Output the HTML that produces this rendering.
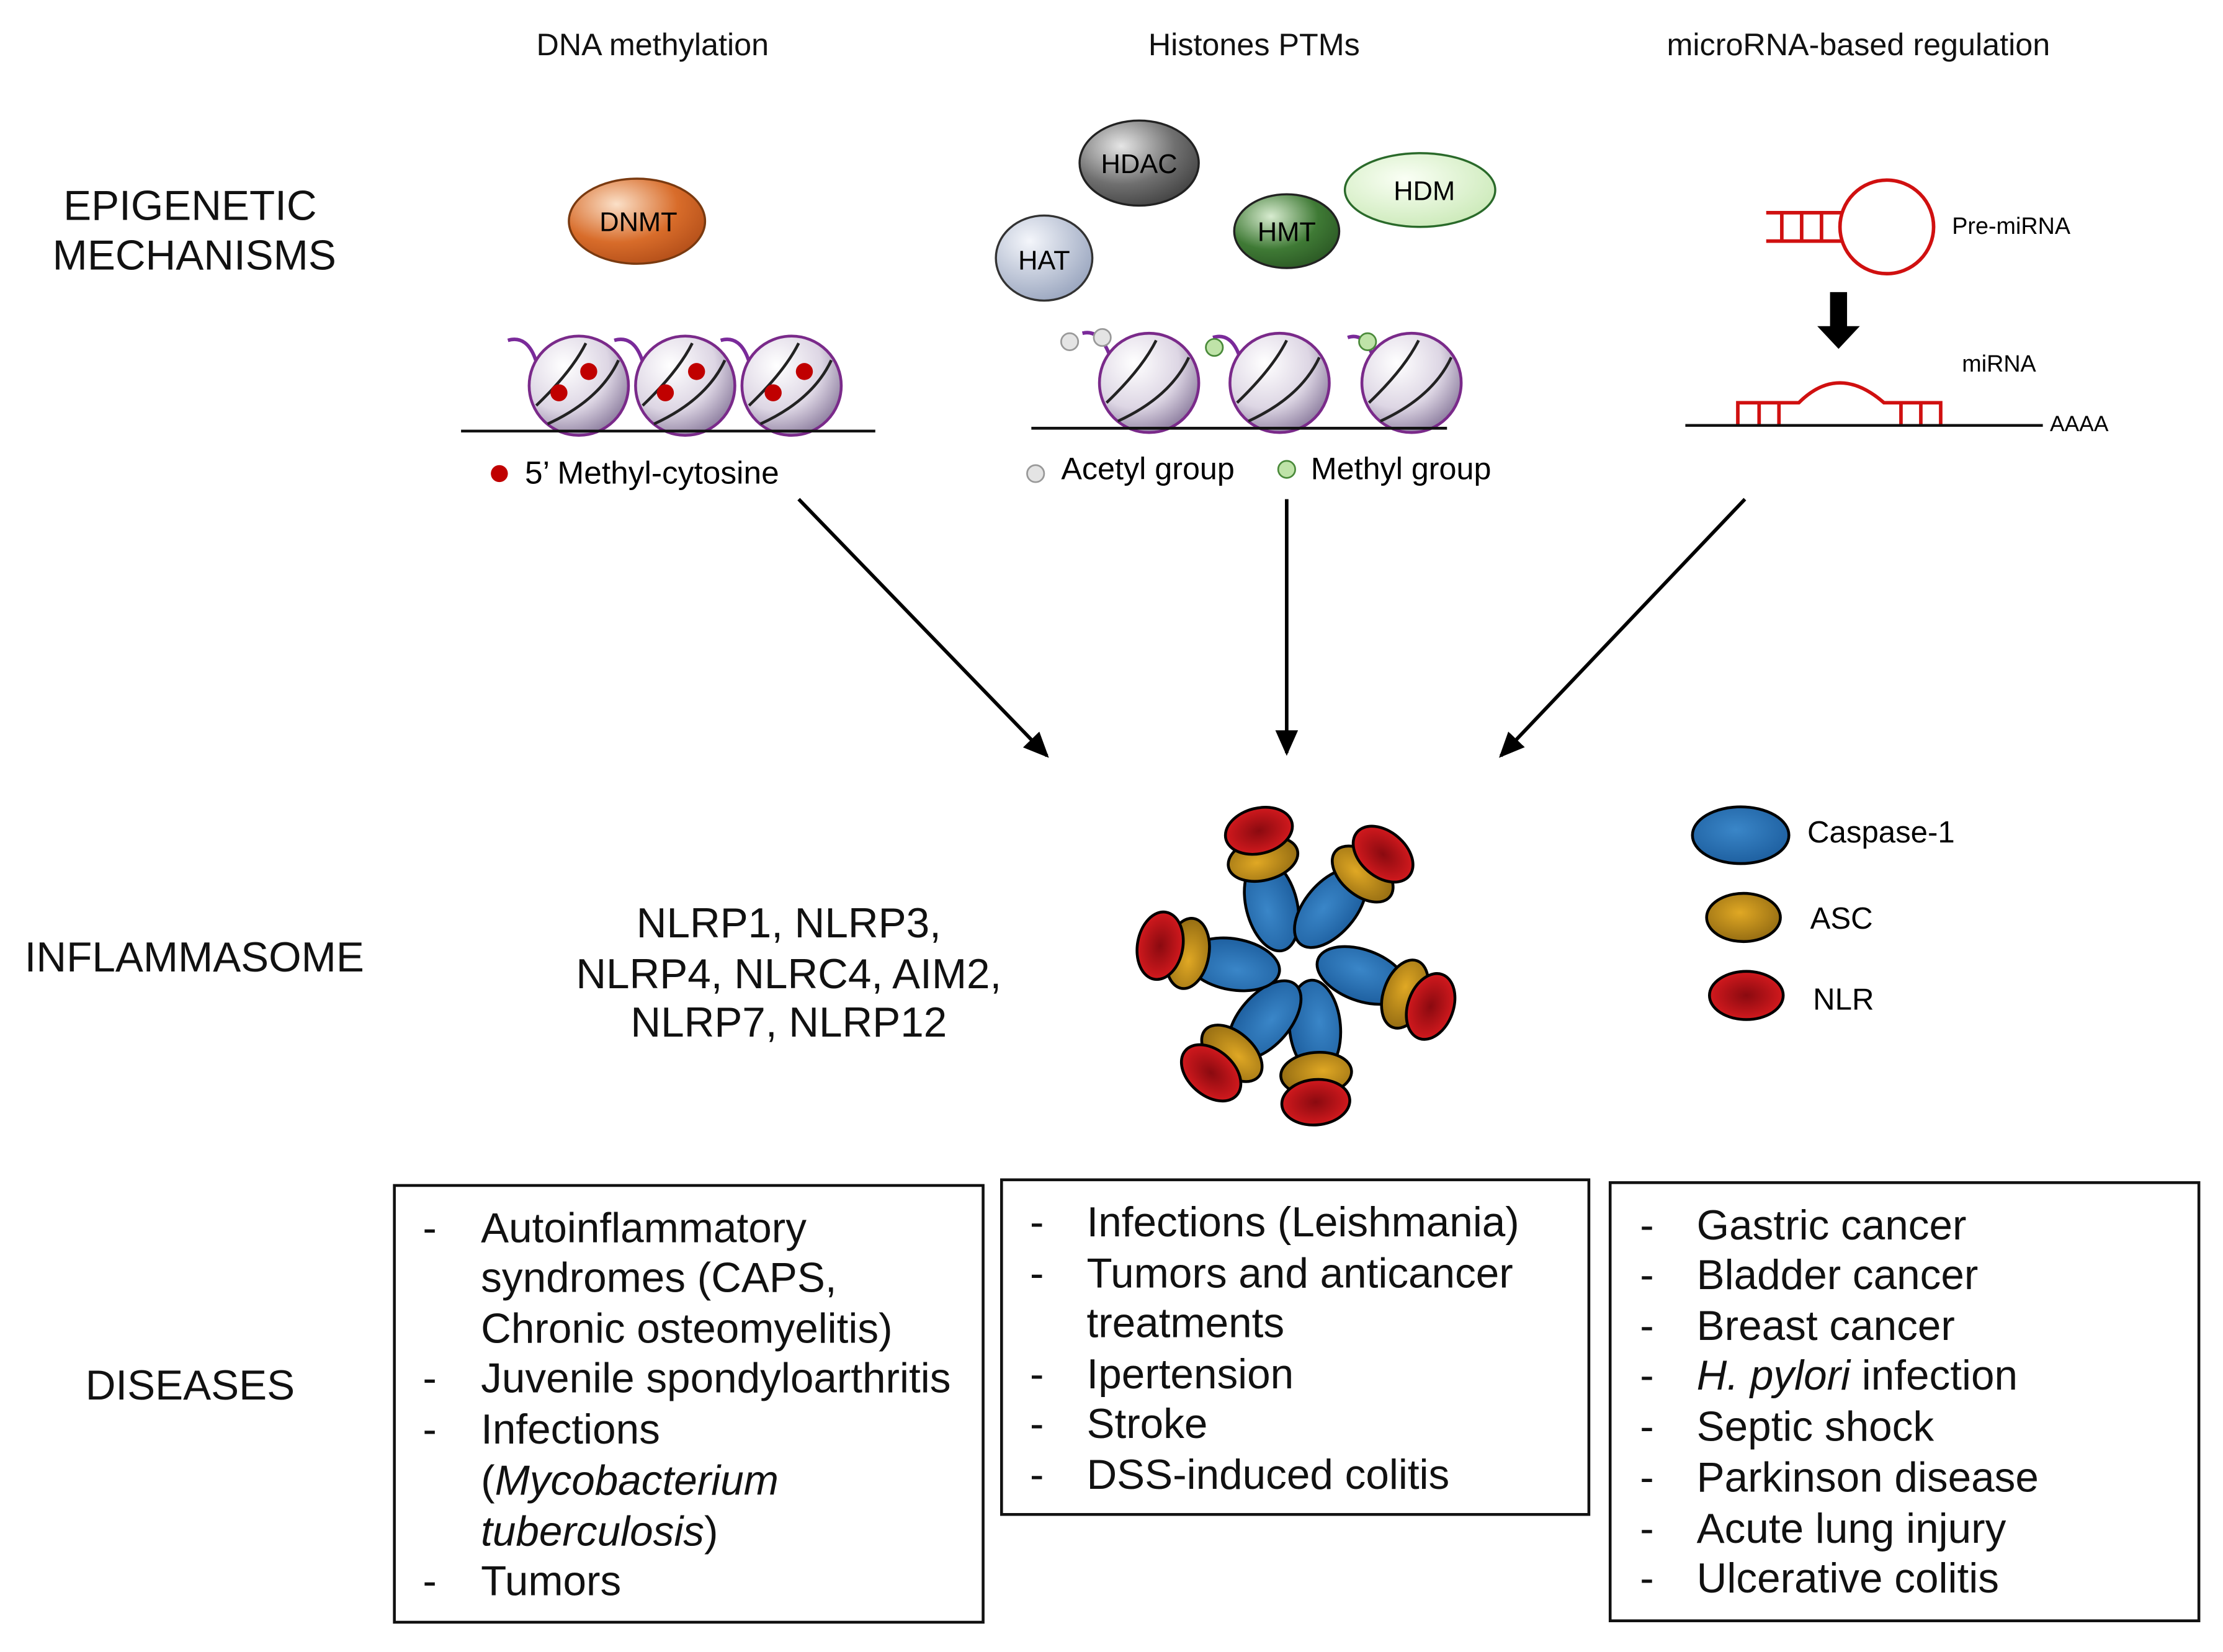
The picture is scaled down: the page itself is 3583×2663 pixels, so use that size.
<!DOCTYPE html>
<html><head><meta charset="utf-8"><style>html,body{margin:0;padding:0;background:#fff}svg{display:block}</style></head>
<body>
<svg width="3583" height="2663" viewBox="0 0 1567 1165" preserveAspectRatio="none" xmlns="http://www.w3.org/2000/svg" font-family="Liberation Sans, Arial, sans-serif">
<defs>
<radialGradient id="gOr" cx="35%" cy="30%" r="75%"><stop offset="0" stop-color="#fbe0c8"/><stop offset="0.6" stop-color="#d86c2a"/><stop offset="1" stop-color="#b5501a"/></radialGradient>
<radialGradient id="gDk" cx="35%" cy="30%" r="75%"><stop offset="0" stop-color="#e6e6e6"/><stop offset="0.6" stop-color="#707070"/><stop offset="1" stop-color="#444"/></radialGradient>
<radialGradient id="gBl" cx="35%" cy="30%" r="75%"><stop offset="0" stop-color="#f4f6fb"/><stop offset="1" stop-color="#9aa6bf"/></radialGradient>
<radialGradient id="gDg" cx="35%" cy="30%" r="75%"><stop offset="0" stop-color="#d8ecd0"/><stop offset="0.6" stop-color="#3f7a35"/><stop offset="1" stop-color="#2c5a25"/></radialGradient>
<radialGradient id="gLg" cx="40%" cy="35%" r="75%"><stop offset="0" stop-color="#fafff5"/><stop offset="1" stop-color="#c8e8b4"/></radialGradient>
<radialGradient id="gNu" cx="35%" cy="30%" r="75%"><stop offset="0" stop-color="#ffffff"/><stop offset="0.6" stop-color="#ddd6e4"/><stop offset="1" stop-color="#8e7fa0"/></radialGradient>
<radialGradient id="gCas" cx="45%" cy="40%" r="70%"><stop offset="0" stop-color="#3a86c8"/><stop offset="1" stop-color="#1a5a9a"/></radialGradient>
<radialGradient id="gAsc" cx="45%" cy="40%" r="70%"><stop offset="0" stop-color="#e0a824"/><stop offset="1" stop-color="#8a6410"/></radialGradient>
<radialGradient id="gNlr" cx="50%" cy="50%" r="60%"><stop offset="0" stop-color="#8a0a10"/><stop offset="1" stop-color="#e01c20"/></radialGradient>
<marker id="ah" markerWidth="20" markerHeight="16" refX="16" refY="8" orient="auto" markerUnits="userSpaceOnUse"><path d="M0,0 L18,8 L0,16 Z" fill="#000"/></marker>
<g id="nuc"><circle r="35" fill="url(#gNu)" stroke="#7a2a8a" stroke-width="2"/><path d="M-30,14 Q-5,-10 5,-30" stroke="#222" stroke-width="2" fill="none"/><path d="M-22,27 Q15,10 28,-18" stroke="#222" stroke-width="2" fill="none"/></g>
<g id="arm"><ellipse cx="45" cy="0" rx="33" ry="18" fill="url(#gCas)"/><ellipse cx="78" cy="2" rx="15" ry="25" fill="url(#gAsc)"/><ellipse cx="98" cy="4" rx="16" ry="24" fill="url(#gNlr)"/></g>
</defs>
<rect width="1567" height="1165" fill="#fff"/>
<g font-size="22" text-anchor="middle" fill="#111">
<text x="460" y="39">DNA methylation</text>
<text x="884" y="39">Histones PTMs</text>
<text x="1310" y="39">microRNA-based  regulation</text>
</g>
<g font-size="29.5" text-anchor="middle" fill="#111">
<text x="134" y="155">EPIGENETIC</text>
<text x="137" y="190">MECHANISMS</text>
<text x="137" y="685">INFLAMMASOME</text>
<text x="134" y="987">DISEASES</text>
</g>
<ellipse cx="449" cy="156" rx="48" ry="30" fill="url(#gOr)" stroke="#7a3a10" stroke-width="1.5"/>
<text x="450" y="163" font-size="19" text-anchor="middle">DNMT</text>
<g stroke="#7a2a9a" stroke-width="2.5" fill="none">
<path d="M358,240 Q372,236 378,255"/><path d="M433,240 Q447,236 453,255"/><path d="M508,240 Q522,236 528,255"/>
</g>
<use href="#nuc" x="408" y="272"/><use href="#nuc" x="483" y="272"/><use href="#nuc" x="558" y="272"/>
<line x1="325" y1="304" x2="617" y2="304" stroke="#111" stroke-width="2"/>
<g fill="#c00000"><circle cx="394" cy="277" r="6"/><circle cx="415" cy="262" r="6"/><circle cx="469" cy="277" r="6"/><circle cx="491" cy="262" r="6"/><circle cx="545" cy="277" r="6"/><circle cx="567" cy="262" r="6"/><circle cx="352" cy="334" r="6"/></g>
<text x="370" y="341" font-size="22.5">5’ Methyl-cytosine</text>
<ellipse cx="803" cy="115" rx="42" ry="30" fill="url(#gDk)" stroke="#222" stroke-width="1.5"/>
<text x="803" y="122" font-size="19" text-anchor="middle">HDAC</text>
<ellipse cx="736" cy="182" rx="34" ry="30" fill="url(#gBl)" stroke="#333" stroke-width="1.5"/>
<text x="736" y="190" font-size="19" text-anchor="middle">HAT</text>
<ellipse cx="907" cy="163" rx="37" ry="26" fill="url(#gDg)" stroke="#222" stroke-width="1.5"/>
<text x="907" y="170" font-size="19" text-anchor="middle">HMT</text>
<ellipse cx="1001" cy="134" rx="53" ry="26" fill="url(#gLg)" stroke="#2a6a2a" stroke-width="1.5"/>
<text x="1004" y="141" font-size="19" text-anchor="middle">HDM</text>
<g stroke="#7a2a9a" stroke-width="2.5" fill="none">
<path d="M763,235 Q775,232 782,250"/><path d="M855,238 Q868,234 874,252"/><path d="M950,238 Q962,234 968,252"/>
</g>
<use href="#nuc" x="810" y="270"/><use href="#nuc" x="902" y="270"/><use href="#nuc" x="995" y="270"/>
<line x1="727" y1="302" x2="1020" y2="302" stroke="#111" stroke-width="2"/>
<g fill="#e4e4e4" stroke="#999" stroke-width="1.2"><circle cx="754" cy="241" r="6"/><circle cx="777" cy="238" r="6"/><circle cx="730" cy="334" r="6"/></g>
<g fill="#bfe3a8" stroke="#4a8a3a" stroke-width="1.2"><circle cx="856" cy="245" r="6"/><circle cx="964" cy="241" r="6"/><circle cx="907" cy="331" r="6"/></g>
<text x="748" y="338" font-size="22">Acetyl group</text>
<text x="924" y="338" font-size="22">Methyl group</text>
<g stroke="#d01010" stroke-width="2.5" fill="none">
<circle cx="1330" cy="160" r="33"/>
<line x1="1245" y1="150" x2="1298" y2="150"/><line x1="1245" y1="170" x2="1298" y2="170"/>
<line x1="1256" y1="150" x2="1256" y2="170"/><line x1="1270" y1="150" x2="1270" y2="170"/><line x1="1284" y1="150" x2="1284" y2="170"/>
<path d="M1225,300 L1225,284 L1268,284 Q1296,256 1328,284 L1368,284 L1368,300"/>
<line x1="1240" y1="284" x2="1240" y2="300"/><line x1="1254" y1="284" x2="1254" y2="300"/>
<line x1="1340" y1="284" x2="1340" y2="300"/><line x1="1354" y1="284" x2="1354" y2="300"/>
</g>
<text x="1376" y="165" font-size="16.5">Pre-miRNA</text>
<text x="1383" y="262" font-size="16.5">miRNA</text>
<line x1="1188" y1="300" x2="1440" y2="300" stroke="#111" stroke-width="2"/>
<text x="1445" y="304" font-size="15.5">AAAA</text>
<path d="M1290,206 L1302,206 L1302,230 L1311,230 L1296,246 L1281,230 L1290,230 Z" fill="#000"/>
<g stroke="#000" stroke-width="2.5" marker-end="url(#ah)">
<line x1="563" y1="352" x2="738" y2="533"/>
<line x1="907" y1="352" x2="907" y2="531"/>
<line x1="1230" y1="352" x2="1058" y2="533"/>
</g>
<g font-size="29.5" text-anchor="middle" fill="#111">
<text x="556" y="661">NLRP1, NLRP3,</text>
<text x="556" y="697">NLRP4, NLRC4, AIM2,</text>
<text x="556" y="731">NLRP7, NLRP12</text>
</g>
<g stroke="#000" stroke-width="2">
<use href="#arm" transform="translate(915,680) rotate(-104) translate(0,-8)"/>
<use href="#arm" transform="translate(915,680) rotate(-50) translate(0,-8)"/>
<use href="#arm" transform="translate(915,680) rotate(20) translate(0,-8)"/>
<use href="#arm" transform="translate(915,680) rotate(85) translate(0,-8)"/>
<use href="#arm" transform="translate(915,680) rotate(131) translate(0,-8)"/>
<use href="#arm" transform="translate(915,680) rotate(190) translate(0,-8)"/>
<ellipse cx="1227" cy="589" rx="34" ry="20" fill="url(#gCas)"/>
<ellipse cx="1229" cy="647" rx="26" ry="17" fill="url(#gAsc)"/>
<ellipse cx="1231" cy="702" rx="26" ry="17" fill="url(#gNlr)"/>
</g>
<g font-size="21.5"><text x="1274" y="594">Caspase-1</text><text x="1276" y="655">ASC</text><text x="1278" y="712">NLR</text></g>
<g fill="none" stroke="#111" stroke-width="2">
<rect x="278" y="836" width="415" height="308"/>
<rect x="706" y="832" width="414" height="236"/>
<rect x="1135" y="834" width="415" height="309"/>
</g>
<g font-size="29.5" fill="#111">
<text x="298" y="876">-</text><text x="339" y="876">Autoinflammatory</text>
<text x="339" y="911">syndromes (CAPS,</text>
<text x="339" y="947">Chronic osteomyelitis)</text>
<text x="298" y="982">-</text><text x="339" y="982">Juvenile spondyloarthritis</text>
<text x="298" y="1018">-</text><text x="339" y="1018">Infections</text>
<text x="339" y="1054">(<tspan font-style="italic">Mycobacterium</tspan></text>
<text x="339" y="1090"><tspan font-style="italic">tuberculosis</tspan>)</text>
<text x="298" y="1125">-</text><text x="339" y="1125">Tumors</text>
<text x="726" y="872">-</text><text x="766" y="872">Infections (Leishmania)</text>
<text x="726" y="908">-</text><text x="766" y="908">Tumors and anticancer</text>
<text x="766" y="943">treatments</text>
<text x="726" y="979">-</text><text x="766" y="979">Ipertension</text>
<text x="726" y="1014">-</text><text x="766" y="1014">Stroke</text>
<text x="726" y="1050">-</text><text x="766" y="1050">DSS-induced colitis</text>
<text x="1156" y="874">-</text><text x="1196" y="874">Gastric cancer</text>
<text x="1156" y="909">-</text><text x="1196" y="909">Bladder cancer</text>
<text x="1156" y="945">-</text><text x="1196" y="945">Breast cancer</text>
<text x="1156" y="980">-</text><text x="1196" y="980"><tspan font-style="italic">H. pylori</tspan> infection</text>
<text x="1156" y="1016">-</text><text x="1196" y="1016">Septic shock</text>
<text x="1156" y="1052">-</text><text x="1196" y="1052">Parkinson disease</text>
<text x="1156" y="1088">-</text><text x="1196" y="1088">Acute lung injury</text>
<text x="1156" y="1123">-</text><text x="1196" y="1123">Ulcerative colitis</text>
</g>
</svg>
</body></html>
